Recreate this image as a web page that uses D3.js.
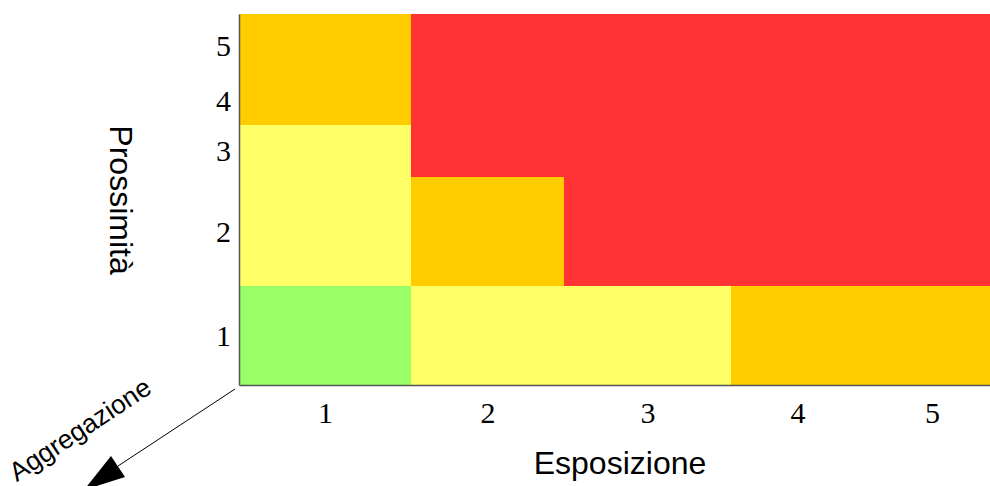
<!DOCTYPE html>
<html>
<head>
<meta charset="utf-8">
<script src="https://cdn.jsdelivr.net/npm/d3@7"></script>
<style>
  html, body { margin: 0; padding: 0; background: #fff; }
  svg { display: block; }
</style>
</head>
<body>
<div id="chart"></div>
<script>
// levels on both axes
const esposizione = [1, 2, 3, 4, 5];
const prossimita = [1, 2, 3, 4, 5];
const tickLabels = ['1', '2', '3', '4', '5'];

// risk class per cell, row = prossimita (1 at bottom), column = esposizione
const row1 = ['low', 'mid', 'mid', 'high', 'high'];
const row2 = ['mid', 'high', 'max', 'max', 'max'];
const row3 = ['mid', 'max', 'max', 'max', 'max'];
const row4 = ['high', 'max', 'max', 'max', 'max'];
const row5 = ['high', 'max', 'max', 'max', 'max'];
const rows = [row1, row2, row3, row4, row5];

const classes = ['low', 'mid', 'high', 'max'];
const classColors = ['#99ff66', '#ffff66', '#ffcc00', '#ff3333'];

const width = 990, height = 486;

const svg = d3.select('#chart').append('svg')
  .attr('width', width)
  .attr('height', height)
  .style('font-family', 'Liberation Serif, serif');

// cells are not the same size, so the scales are piecewise
const x = d3.scaleLinear()
  .domain([0.5, 1.5, 2.5, 3.5, 4.5, 5.5])
  .range([239, 411, 564, 731, 864, 1000]);

const y = d3.scaleLinear()
  .domain([0.5, 1.5, 2.5, 3.5, 4.5, 5.5])
  .range([385, 286, 177, 125, 77, 14]);

const color = d3.scaleOrdinal().domain(classes).range(classColors);

const cells = [];
rows.forEach((r, i) => r.forEach((c, j) => {
  cells.push({ e: esposizione[j], p: prossimita[i], c });
}));

svg.append('g')
  .selectAll('rect')
  .data(cells)
  .join('rect')
  .attr('x', d => x(d.e - 0.5))
  .attr('y', d => y(d.p + 0.5))
  .attr('width', d => x(d.e + 0.5) - x(d.e - 0.5))
  .attr('height', d => y(d.p - 0.5) - y(d.p + 0.5))
  .attr('fill', d => color(d.c))
  .attr('shape-rendering', 'crispEdges');

// X axis
const xAxis = svg.append('g')
  .attr('transform', `translate(0,${y(0.5)})`)
  .call(d3.axisBottom(x).tickValues(esposizione).tickFormat((d, i) => tickLabels[i]).tickSize(0).tickPadding(17));
xAxis.select('.domain').attr('stroke', '#555').attr('stroke-width', 1.5);
xAxis.selectAll('text')
  .attr('fill', '#000')
  .style('font-family', 'Liberation Serif, serif')
  .style('font-size', '30px');

// Y axis
const yAxis = svg.append('g')
  .attr('transform', `translate(${x(0.5)},0)`)
  .call(d3.axisLeft(y).tickValues(prossimita).tickFormat((d, i) => tickLabels[i]).tickSize(0).tickPadding(8));
yAxis.select('.domain').attr('stroke', '#555').attr('stroke-width', 1.5);
yAxis.selectAll('text')
  .attr('fill', '#000')
  .style('font-family', 'Liberation Serif, serif')
  .style('font-size', '30px');

// axis titles
svg.append('text')
  .attr('x', 620)
  .attr('y', 474)
  .attr('text-anchor', 'middle')
  .style('font-family', 'Liberation Sans, Arial, sans-serif')
  .style('font-size', '32px')
  .text('Esposizione');

svg.append('text')
  .attr('transform', 'translate(110,200)rotate(90)')
  .attr('text-anchor', 'middle')
  .style('font-family', 'Liberation Sans, Arial, sans-serif')
  .style('font-size', '32px')
  .text('Prossimità');

svg.append('text')
  .attr('transform', 'translate(85,437)rotate(-33.5)')
  .attr('text-anchor', 'middle')
  .style('font-family', 'Liberation Sans, Arial, sans-serif')
  .style('font-size', '26.5px')
  .text('Aggregazione');

// third axis arrow
svg.append('line')
  .attr('x1', 235).attr('y1', 389)
  .attr('x2', 118).attr('y2', 466)
  .attr('stroke', '#000')
  .attr('stroke-width', 1);

svg.append('path')
  .attr('d', 'M84,490 L111,456 L125,477 Z')
  .attr('fill', '#000');
</script>
</body>
</html>
